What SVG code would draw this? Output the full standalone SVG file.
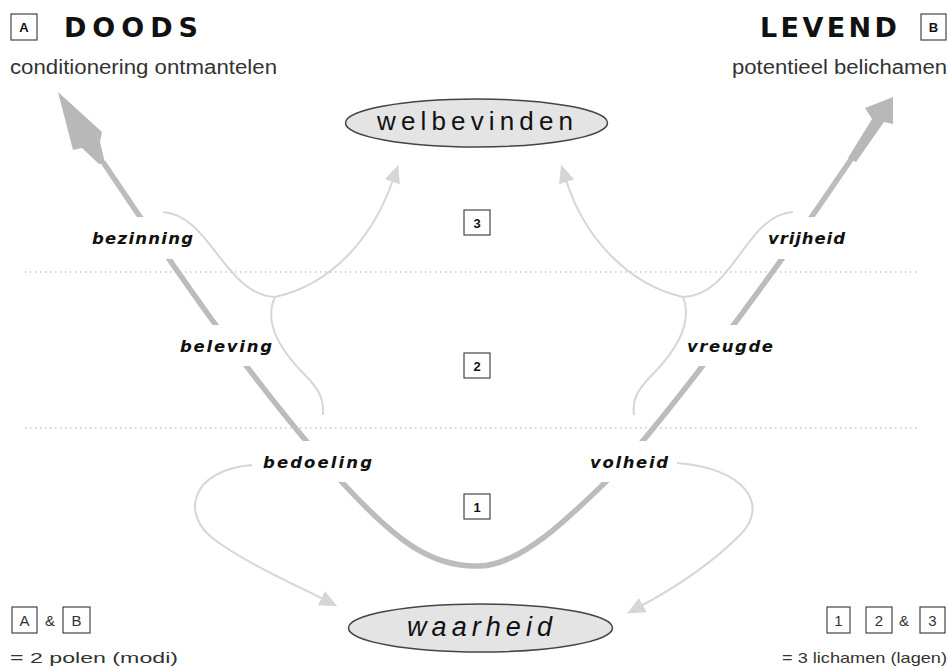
<svg xmlns="http://www.w3.org/2000/svg" width="949" height="668" viewBox="0 0 949 668">
<style>
.t{font-family:"Liberation Sans",Arial,sans-serif;fill:#111}
.title{font-family:"DejaVu Sans","Liberation Sans",sans-serif;font-size:27px;font-weight:bold}
.sub{font-size:20px;fill:#333}
.lbl{font-family:"DejaVu Sans","Liberation Sans",sans-serif;font-size:16.5px;font-weight:bold;font-style:italic;fill:#111}
.box{fill:#fff;stroke:#444;stroke-width:1.2}
.bt{font-size:13px;font-weight:bold;text-anchor:middle}
.bt2{font-size:15px;text-anchor:middle;fill:#333}
.leg{font-size:15px;fill:#333}
.ell{fill:#e4e4e4;stroke:#444;stroke-width:1.5}
.dots{stroke:#c8c8c8;stroke-width:1.5;stroke-dasharray:1.5 3.5;fill:none}
.thin{fill:none;stroke:#d6d6d6;stroke-width:2}
.big{fill:none;stroke:#bcbcbc;stroke-width:5.5;stroke-linecap:butt}
.head{fill:#b8b8b8}
.mask{fill:#fff}
</style>
<defs>
<marker id="ah" markerUnits="userSpaceOnUse" markerWidth="20" markerHeight="16" refX="2" refY="8" orient="auto">
<path d="M0,0 L18,8 L0,16 z" fill="#d6d6d6"/>
</marker>
</defs>
<rect width="949" height="668" fill="#fff"/>

<g id="layers">
<line class="dots" x1="25" y1="272" x2="919" y2="272"/>
<line class="dots" x1="25" y1="428" x2="919" y2="428"/>
</g>

<g id="connectors">
<path class="big" d="M103,162 C170,262 250,380 340,480 C395,540 430,567 478,566 C522,566 572,515 620,468 C700,375 790,250 852,158"/>
<polygon class="head" points="58,92 102,132 100,142 105,163 99,164 82,148 73,150"/>
<polygon class="head" points="893,97 893,124 884,122 856,162 848,158 872,119 865,108"/>
<g id="label-masks">
<rect class="mask" x="86" y="217" width="114" height="42"/>
<rect class="mask" x="174" y="325" width="104" height="41"/>
<rect class="mask" x="257" y="441" width="121" height="41"/>
<rect class="mask" x="762" y="217" width="89" height="42"/>
<rect class="mask" x="681" y="325" width="98" height="41"/>
<rect class="mask" x="584" y="441" width="90" height="41"/>
</g>
<path class="thin" d="M163,212 C210,215 225,295 275,297"/>
<path class="thin" d="M275,297 C330,285 372,240 393,180" marker-end="url(#ah)"/>
<path class="thin" d="M275,297 C262,325 285,355 305,375 C320,390 324,400 323,415"/>
<path class="thin" d="M793,212 C745,215 735,295 683,297"/>
<path class="thin" d="M683,297 C630,285 585,240 566,180" marker-end="url(#ah)"/>
<path class="thin" d="M683,297 C694,325 672,355 652,375 C637,390 632,400 634,415"/>
<path class="thin" d="M252,465 C190,470 180,515 215,540 C245,562 285,580 323,599" marker-end="url(#ah)"/>
<path class="thin" d="M677,463 C745,468 770,505 740,535 C715,560 680,585 641,606" marker-end="url(#ah)"/>
</g>

<g id="pole-A">
<rect class="box" x="11" y="14" width="26" height="26"/>
<text class="t bt" x="24" y="32">A</text>
<text class="t title" x="64" y="37" textLength="134" lengthAdjust="spacing">DOODS</text>
<text class="t sub" x="10" y="74" textLength="267" lengthAdjust="spacingAndGlyphs">conditionering ontmantelen</text>
</g>

<g id="pole-B">
<rect class="box" x="921" y="14" width="25" height="26"/>
<text class="t bt" x="933.5" y="32">B</text>
<text class="t title" x="760" y="37" textLength="137" lengthAdjust="spacing">LEVEND</text>
<text class="t sub" x="732" y="74" textLength="215" lengthAdjust="spacingAndGlyphs">potentieel belichamen</text>
</g>

<g id="welbevinden">
<ellipse class="ell" cx="476.5" cy="123" rx="131" ry="24"/>
<text class="t" x="377" y="130" font-size="26" fill="#222" textLength="196" lengthAdjust="spacing">welbevinden</text>
</g>

<g id="waarheid">
<ellipse class="ell" cx="480.5" cy="628" rx="132" ry="24"/>
<text class="t" x="407" y="636" font-size="27" font-style="italic" fill="#222" textLength="145" lengthAdjust="spacing">waarheid</text>
</g>

<g id="layer-3">
<rect class="box" x="464" y="210" width="26" height="25"/>
<text class="t bt" x="477" y="228">3</text>
</g>
<g id="layer-2">
<rect class="box" x="464" y="353" width="26" height="25"/>
<text class="t bt" x="477" y="371">2</text>
</g>
<g id="layer-1">
<rect class="box" x="464" y="494" width="26" height="25"/>
<text class="t bt" x="477" y="512">1</text>
</g>

<g id="label-bezinning"><text class="t lbl" x="92" y="244" textLength="101" lengthAdjust="spacing">bezinning</text></g>
<g id="label-beleving"><text class="t lbl" x="180" y="352" textLength="92" lengthAdjust="spacing">beleving</text></g>
<g id="label-bedoeling"><text class="t lbl" x="263" y="468" textLength="109" lengthAdjust="spacing">bedoeling</text></g>
<g id="label-vrijheid"><text class="t lbl" x="768" y="244" textLength="77" lengthAdjust="spacing">vrijheid</text></g>
<g id="label-vreugde"><text class="t lbl" x="687" y="352" textLength="86" lengthAdjust="spacing">vreugde</text></g>
<g id="label-volheid"><text class="t lbl" x="590" y="468" textLength="78" lengthAdjust="spacing">volheid</text></g>

<g id="legend-left">
<rect class="box" x="12" y="607" width="25" height="26"/>
<text class="t bt2" x="24.5" y="626">A</text>
<text class="t leg" x="45" y="626">&amp;</text>
<rect class="box" x="63" y="607" width="27" height="26"/>
<text class="t bt2" x="76.5" y="626">B</text>
<text class="t leg" x="10" y="663" textLength="168" lengthAdjust="spacingAndGlyphs">= 2 polen (modi)</text>
</g>

<g id="legend-right">
<rect class="box" x="827" y="607" width="23" height="26"/>
<text class="t bt2" x="838.5" y="626">1</text>
<rect class="box" x="866" y="607" width="26" height="26"/>
<text class="t bt2" x="879" y="626">2</text>
<text class="t leg" x="899" y="626">&amp;</text>
<rect class="box" x="920" y="607" width="25" height="26"/>
<text class="t bt2" x="932.5" y="626">3</text>
<text class="t leg" x="782" y="663" textLength="165" lengthAdjust="spacingAndGlyphs">= 3 lichamen (lagen)</text>
</g>
</svg>
